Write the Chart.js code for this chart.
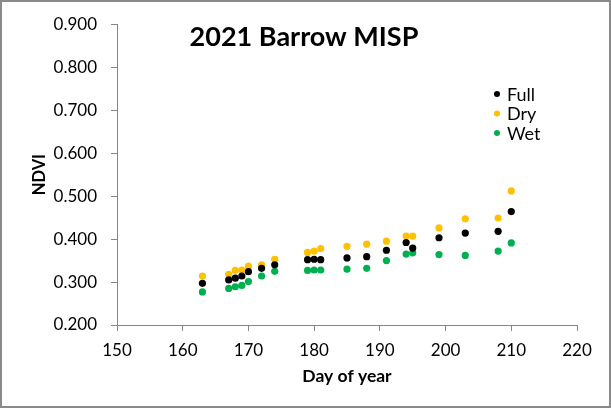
<!DOCTYPE html>
<html>
<head>
<meta charset="utf-8">
<script src="https://cdn.jsdelivr.net/npm/chart.js@4"></script>
<style>
  body { margin: 0; background: #fff; }
  canvas { display: block; }
</style>
</head>
<body>
<canvas id="myChart" width="611" height="408"></canvas>
<script>
// day of year for each sampling date
let days = [163, 167, 168, 169, 170, 172, 174, 179, 180, 181, 185, 188, 191, 194, 195, 199, 203, 208, 210];

// NDVI per treatment
let full = [0.297, 0.305, 0.309, 0.314, 0.324, 0.332, 0.340, 0.352, 0.353, 0.352, 0.356, 0.359, 0.374, 0.392, 0.379, 0.403, 0.414, 0.418, 0.464];
let dry  = [0.314, 0.318, 0.327, 0.328, 0.337, 0.340, 0.353, 0.369, 0.372, 0.378, 0.383, 0.388, 0.395, 0.407, 0.407, 0.426, 0.447, 0.449, 0.512];
let wet  = [0.277, 0.285, 0.289, 0.292, 0.301, 0.314, 0.325, 0.327, 0.328, 0.328, 0.330, 0.332, 0.350, 0.365, 0.368, 0.364, 0.362, 0.372, 0.391];

let seriesNames = ["Full", "Dry", "Wet"];
let seriesColors = ["#000000", "#FFC000", "#00B050"];

let titleText = "2021 Barrow MISP";
let xTitle = "Day of year";
let yTitle = "NDVI";

const axisGrey = "#868686";
const fontFamily = "Lato, 'Open Sans', sans-serif";

function toPoints(values) {
  return days.map((d, i) => ({ x: d, y: values[i] }));
}

// white background, frame, title and the legend inside the plot
const decorations = {
  id: "decorations",
  beforeDraw(chart) {
    let ctx = chart.ctx;
    ctx.save();
    ctx.fillStyle = "#ffffff";
    ctx.fillRect(0, 0, chart.width, chart.height);
    ctx.restore();
  },
  afterDraw(chart) {
    let ctx = chart.ctx;
    ctx.save();

    ctx.strokeStyle = "#8a8a8a";
    ctx.lineWidth = 2;
    ctx.strokeRect(1, 1, chart.width - 2, chart.height - 2);

    ctx.fillStyle = "#000";
    ctx.font = "bold 27px " + fontFamily;
    ctx.textAlign = "center";
    ctx.textBaseline = "alphabetic";
    ctx.fillText(titleText, 304, 46);

    ctx.font = "18px " + fontFamily;
    ctx.textAlign = "left";
    ctx.textBaseline = "middle";
    chart.data.datasets.forEach((ds, i) => {
      let y = 94 + i * 19.5;
      ctx.fillStyle = ds.backgroundColor;
      ctx.beginPath();
      ctx.arc(497, y, 3, 0, Math.PI * 2);
      ctx.fill();
      ctx.fillStyle = "#000";
      ctx.fillText(ds.label, 507, y + 1);
    });

    ctx.restore();
  }
};

let ctx = document.getElementById("myChart").getContext("2d");

let myChart = new Chart(ctx, {
  type: "scatter",
  data: {
    datasets: [
      { label: seriesNames[0], data: toPoints(full), backgroundColor: seriesColors[0] },
      { label: seriesNames[1], data: toPoints(dry), backgroundColor: seriesColors[1] },
      { label: seriesNames[2], data: toPoints(wet), backgroundColor: seriesColors[2] }
    ]
  },
  options: {
    responsive: false,
    animation: false,
    events: [],
    elements: {
      point: { radius: 3.6, borderWidth: 0, hoverRadius: 3.6 }
    },
    layout: {
      padding: { left: 0, top: 19, right: 34, bottom: 0 }
    },
    plugins: {
      legend: { display: false },
      tooltip: { enabled: false },
      title: { display: false }
    },
    scales: {
      x: {
        type: "linear",
        min: 150,
        max: 220,
        afterFit(scale) { scale.height = 83; },
        ticks: {
          stepSize: 10,
          padding: 9,
          color: "#000",
          font: { family: fontFamily, size: 17 }
        },
        grid: {
          drawOnChartArea: false,
          drawTicks: true,
          tickLength: 6,
          color: axisGrey
        },
        border: { color: axisGrey, width: 1 },
        title: {
          display: true,
          text: xTitle,
          color: "#000",
          font: { family: fontFamily, size: 17.5, weight: "bold" },
          padding: { top: 0, bottom: 21 }
        }
      },
      y: {
        type: "linear",
        min: 0.2,
        max: 0.9,
        afterFit(scale) { scale.width = 117; },
        ticks: {
          stepSize: 0.1,
          padding: 14,
          color: "#000",
          font: { family: fontFamily, size: 17 },
          callback: v => v.toFixed(3)
        },
        grid: {
          drawOnChartArea: false,
          drawTicks: true,
          tickLength: 6,
          color: axisGrey
        },
        border: { color: axisGrey, width: 1 },
        title: {
          display: true,
          text: yTitle,
          color: "#000",
          font: { family: fontFamily, size: 16.5, weight: "bold" },
          padding: { top: 30, bottom: 0 }
        }
      }
    }
  },
  plugins: [decorations]
});
</script>
</body>
</html>
